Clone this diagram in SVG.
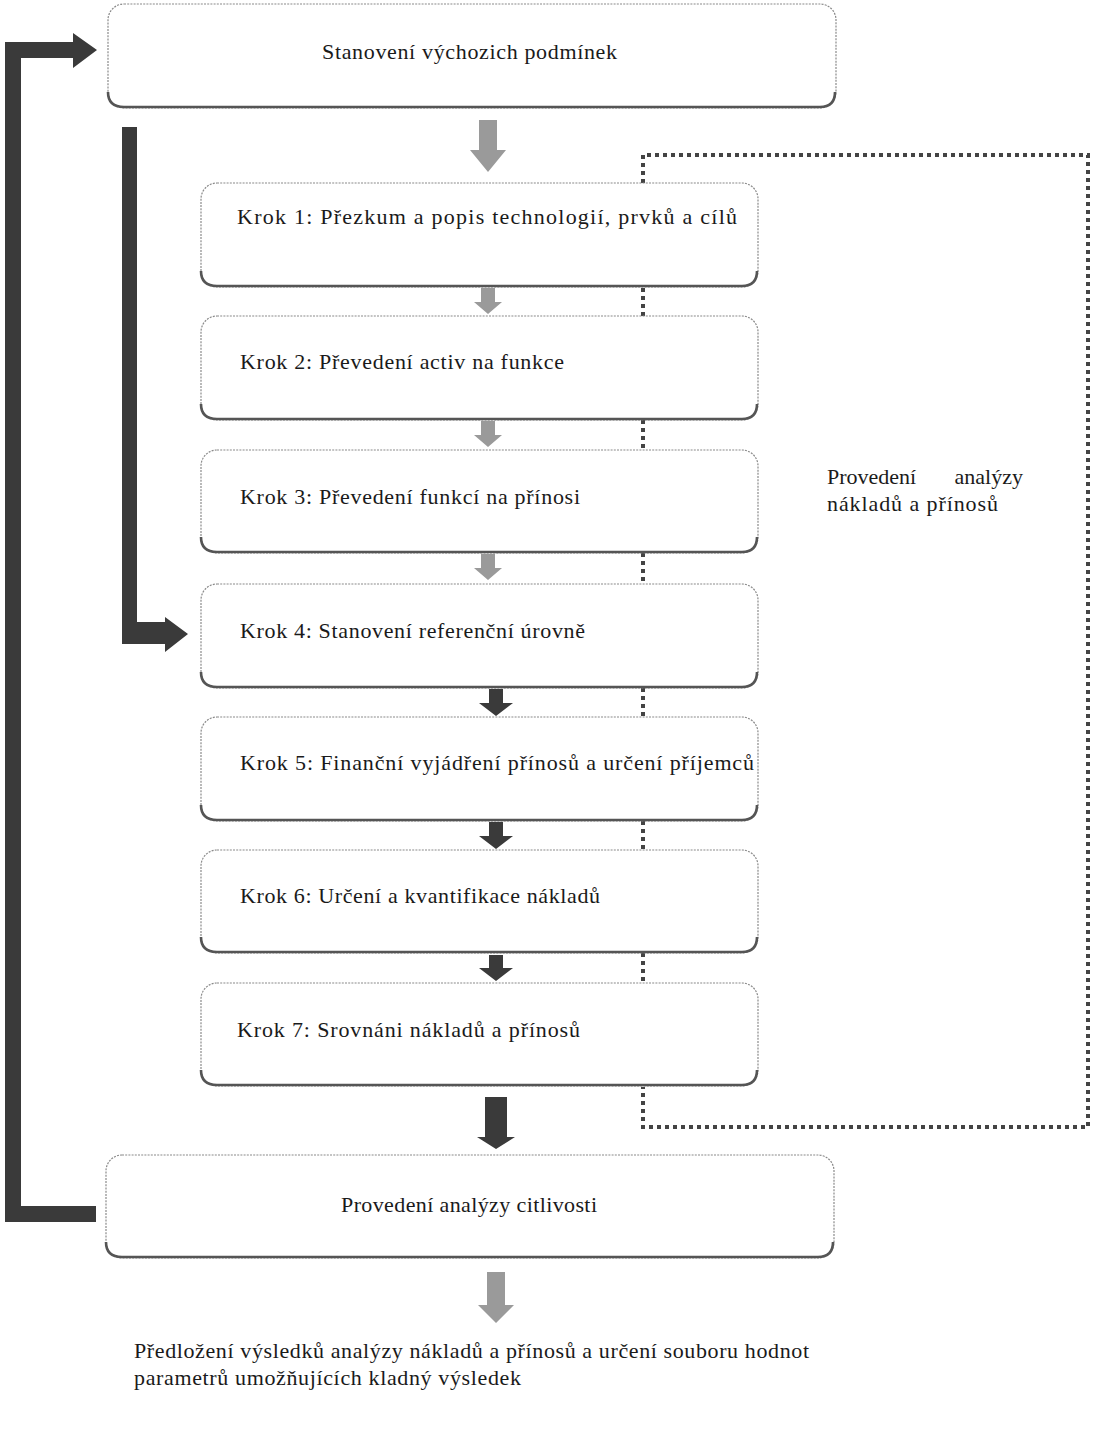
<svg xmlns="http://www.w3.org/2000/svg" width="1104" height="1445" viewBox="0 0 1104 1445">
<defs>
<style>
.box{fill:#fff;stroke:#8a8a8a;stroke-width:1.2;stroke-dasharray:2 1.2}
.sh{fill:none;stroke:#555;stroke-width:2.6}
.t{font-family:"Liberation Serif","DejaVu Serif",serif;font-size:22px;fill:#1a1a1a}
.g{fill:#9a9a9a}
.d{fill:#3a3a3a}
.dot{fill:none;stroke:#444;stroke-width:4;stroke-dasharray:4 4}
</style>
</defs>
<rect width="1104" height="1445" fill="#fff"/>
<g id="connectors">
<path class="d" d="M5 42 H73 V33 L97 50 L73 68 V58 H21 V1206 H96 V1222 H5 Z"/>
<path class="d" d="M122 127 H137 V622 H165 V617 L188 634 L165 652 V644 H122 Z"/>
<path class="g" d="M479 120 H497 V150 H506 L488 172 L470 150 H479 Z"/>
<path class="g" d="M481 288 H495 V302 H502 L488 314 L474 302 H481 Z"/>
<path class="g" d="M481 421 H495 V435 H502 L488 447 L474 435 H481 Z"/>
<path class="g" d="M481 554 H495 V568 H502 L488 580 L474 568 H481 Z"/>
<path class="d" d="M489 689 H503 V703 H513 L496 716 L479 703 H489 Z"/>
<path class="d" d="M489 822 H503 V836 H513 L496 849 L479 836 H489 Z"/>
<path class="d" d="M489 955 H503 V968 H513 L496 981 L479 968 H489 Z"/>
<path class="d" d="M485 1097 H507 V1137 H515 L496 1149 L477 1137 H485 Z"/>
<path class="g" d="M487 1272 H505 V1305 H514 L496 1323 L478 1305 H487 Z"/>
<path class="dot" d="M643 183 V155 H1088 V1127 H643 V1087"/>
<path class="dot" d="M643 288 V316 M643 420 V450 M643 553 V584 M643 688 V717 M643 821 V850 M643 953 V983"/>
</g>
<g id="n0"><rect class="box" x="108" y="4" width="728" height="104" rx="16"/><path class="sh" d="M108 92 Q108 107 124 107 H820 Q835 107 835 92"/><text class="t" x="322" y="59" textLength="295" lengthAdjust="spacing">Stanovení výchozich podmínek</text></g>
<g id="n1"><rect class="box" x="201" y="183" width="557" height="104" rx="16"/><path class="sh" d="M201 271 Q201 286 217 286 H742 Q757 286 757 271"/><text class="t" x="237" y="224" textLength="500" lengthAdjust="spacing">Krok 1: Přezkum a popis technologií, prvků a cílů</text></g>
<g id="n2"><rect class="box" x="201" y="316" width="557" height="104" rx="16"/><path class="sh" d="M201 404 Q201 419 217 419 H742 Q757 419 757 404"/><text class="t" x="240" y="369" textLength="324" lengthAdjust="spacing">Krok 2: Převedení activ na funkce</text></g>
<g id="n3"><rect class="box" x="201" y="450" width="557" height="103" rx="16"/><path class="sh" d="M201 537 Q201 552 217 552 H742 Q757 552 757 537"/><text class="t" x="240" y="504" textLength="340" lengthAdjust="spacing">Krok 3: Převedení funkcí na přínosi</text></g>
<g id="n4"><rect class="box" x="201" y="584" width="557" height="104" rx="16"/><path class="sh" d="M201 672 Q201 687 217 687 H742 Q757 687 757 672"/><text class="t" x="240" y="638" textLength="345" lengthAdjust="spacing">Krok 4: Stanovení referenční úrovně</text></g>
<g id="n5"><rect class="box" x="201" y="717" width="557" height="104" rx="16"/><path class="sh" d="M201 805 Q201 820 217 820 H742 Q757 820 757 805"/><text class="t" x="240" y="770" textLength="514" lengthAdjust="spacing">Krok 5: Finanční vyjádření přínosů a určení příjemců</text></g>
<g id="n6"><rect class="box" x="201" y="850" width="557" height="103" rx="16"/><path class="sh" d="M201 937 Q201 952 217 952 H742 Q757 952 757 937"/><text class="t" x="240" y="903" textLength="360" lengthAdjust="spacing">Krok 6: Určení a kvantifikace nákladů</text></g>
<g id="n7"><rect class="box" x="201" y="983" width="557" height="103" rx="16"/><path class="sh" d="M201 1070 Q201 1085 217 1085 H742 Q757 1085 757 1070"/><text class="t" x="237" y="1037" textLength="343" lengthAdjust="spacing">Krok 7: Srovnáni nákladů a přínosů</text></g>
<g id="n8"><rect class="box" x="106" y="1155" width="728" height="103" rx="16"/><path class="sh" d="M106 1242 Q106 1257 122 1257 H818 Q833 1257 833 1242"/><text class="t" x="341" y="1212" textLength="256" lengthAdjust="spacing">Provedení analýzy citlivosti</text></g>
<g id="label"><text class="t" x="827" y="484">Provedení</text><text class="t" x="1023" y="484" text-anchor="end">analýzy</text><text class="t" x="827" y="511" textLength="171" lengthAdjust="spacing">nákladů a přínosů</text></g>
<g id="result"><text class="t" x="134" y="1358" textLength="675" lengthAdjust="spacing">Předložení výsledků analýzy nákladů a přínosů a určení souboru hodnot</text><text class="t" x="134" y="1385" textLength="387" lengthAdjust="spacing">parametrů umožňujících kladný výsledek</text></g>
</svg>
